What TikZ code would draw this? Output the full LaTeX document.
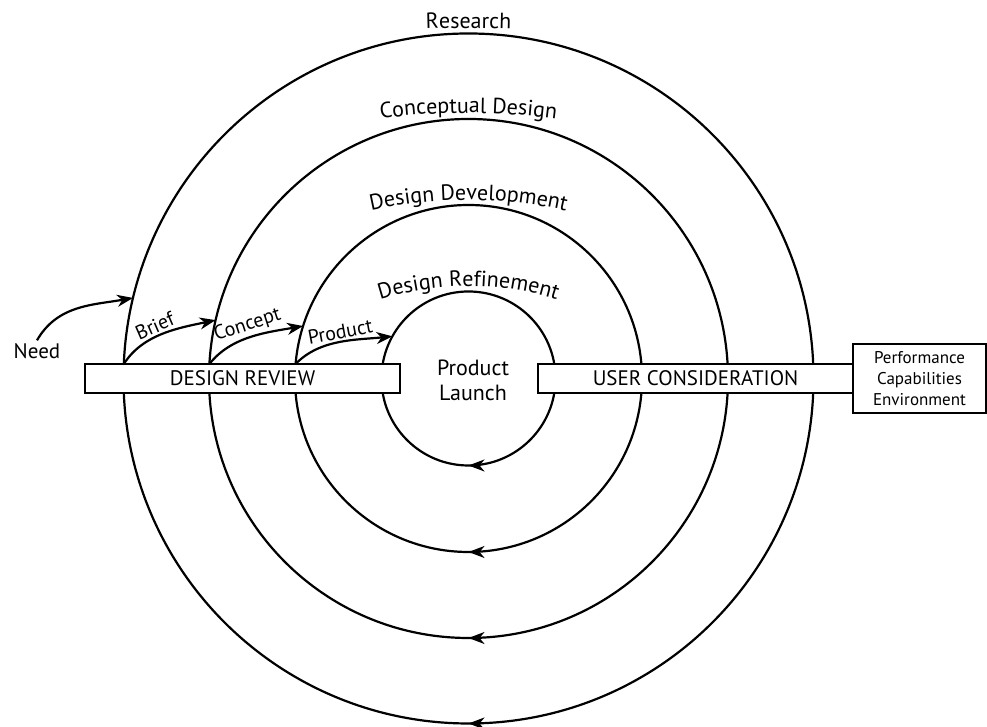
\documentclass[tikz,border=0pt]{standalone}
\usepackage{fontspec}
\setmainfont{PT Sans}
\usetikzlibrary{
arrows.meta,
positioning,
calc,
decorations.markings,
decorations.text
}

\newcommand{\ringfont}{\fontsize{11}{13}\selectfont}

\begin{document}
\begin{tikzpicture}[
x=0.5pt,y=0.5pt,
line width=1.1pt,
bar/.style={
draw,
fill=white,
minimum width=157.5pt,
minimum height=14.5pt,
inner sep=0pt,
outer sep=0pt,
font=\fontsize{10.5}{12}\selectfont
},
infobox/.style={
draw,
fill=white,
minimum width=66.5pt,
minimum height=34.5pt,
inner sep=1pt,
outer sep=0pt,
align=center,
font=\fontsize{8.5}{10.5}\selectfont
},
ring/.style={
postaction=decorate,
decoration={markings,
mark=at position 0.75 with {\arrowreversed{Stealth[length=8pt,width=6pt,inset=2.5pt]}}}
},
ringlabel/.style={
decorate,
decoration={text along path,text align=center,text={|\ringfont|#1}}
},
arrow/.style={-{Stealth[length=8pt,width=6pt,inset=2.5pt]}},
arrowlabel/.style={sloped,above,inner sep=1pt,font=\fontsize{10}{12}\selectfont}
]

\useasboundingbox (0,0) rectangle (987,727);

\coordinate (c) at (468.5,348.5);

% the four rings, inside out
\draw[ring] (c) circle (87);
\draw[ring] (c) circle (173.5);
\draw[ring] (c) circle (259.5);
\draw[ring] (c) circle (345);

% ring names, on flatter arcs just above each ring
\path[ringlabel={Design Refinement}] ($(468.5,441)+(0,-290)+(120:290)$) arc[start angle=120,end angle=60,radius=290];
\path[ringlabel={Design Development}] ($(468.5,527)+(0,-440)+(110:440)$) arc[start angle=110,end angle=70,radius=440];
\path[ringlabel={Conceptual Design}] ($(468.5,614)+(0,-675)+(100:675)$) arc[start angle=100,end angle=80,radius=675];
\path[ringlabel={Research}] ($(468.5,699)+(0,-1500)+(95:1500)$) arc[start angle=95,end angle=85,radius=1500];

\node[bar] (review) at (242.5,348.5) {DESIGN REVIEW};
\node[bar,right=69pt of review] (user) {USER CONSIDERATION};
\node[infobox,right=0pt of user] (perf) {Performance\\Capabilities\\Environment};

\node[align=center,font=\fontsize{11}{12.5}\selectfont] (launch) at (473,347) {Product\\Launch};

\node[inner sep=1pt,font=\fontsize{10.5}{12}\selectfont] (need) at (37,376) {Need};

% where the arrows leave and meet the rings
\coordinate (in0) at ($(c)+(166.5:345)$);
\coordinate (out1) at ($(c)+(177.6:345)$);
\coordinate (in1) at ($(c)+(167:259.5)$);
\coordinate (out2) at ($(c)+(176.8:259.5)$);
\coordinate (in2) at ($(c)+(162.4:173.5)$);
\coordinate (out3) at ($(c)+(175.2:173.5)$);
\coordinate (in3) at ($(c)+(151:87)$);

\draw[arrow] (need.north) to[out=60,in=190] (in0);
\draw[arrow] (out1) to[out=58,in=192,looseness=0.9] node[arrowlabel,pos=0.45] {Brief} (in1);
\draw[arrow] (out2) to[out=52,in=190,looseness=0.9] node[arrowlabel,pos=0.5] {Concept} (in2);
\draw[arrow] (out3) to[out=46,in=186,looseness=0.9] node[arrowlabel,pos=0.52] {Product} (in3);

\end{tikzpicture}
\end{document}
